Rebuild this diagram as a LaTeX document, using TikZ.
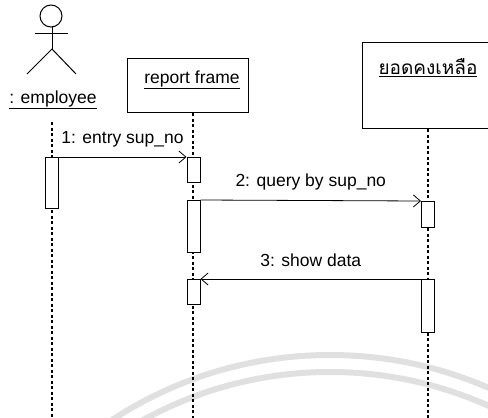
\documentclass[tikz,border=0pt]{standalone}
\usepackage{fontspec}
\setmainfont{Liberation Sans}
\newfontfamily\thaifont[Script=Thai]{Loma}
\usetikzlibrary{arrows.meta}
\begin{document}
\begin{tikzpicture}[x=1pt,y=-1pt,
  lbl/.style={font=\fontsize{17.5}{20}\selectfont, inner sep=0pt},
  objbox/.style={draw, line width=1pt},
  act/.style={draw, fill=white, line width=1pt, minimum width=13pt, inner sep=0pt, anchor=north},
  life/.style={line width=1.2pt, dash pattern=on 3pt off 2.5pt},
  msg/.style={line width=0.8pt, -{Straight Barb[length=7pt,width=12pt]}},
  wm/.style={line width=6pt, draw=black!12},
  wmray/.style={line width=2.5pt, draw=black!10},
  stick/.style={line width=1pt}]
\useasboundingbox (0,0) rectangle (488,418);
\clip (0,0) rectangle (488,418);
% watermark
\draw[wm] (330,753) circle (398);
\draw[wm] (330,759) circle (387);
\foreach \a in {45,55,...,135} \draw[wmray] (330,480) ++(\a:58) -- ++(\a:14);
% actor
\draw[stick] (51,16) circle (11);
\draw[stick] (35,33) -- (68,33);
\draw[stick] (52,27) -- (52,49);
\draw[stick] (27,74) -- (52,49) -- (76,74);
\node[lbl] (emp) at (53,100) {\underline{: employee}};
% objects
\draw[objbox] (127,58) rectangle (248,112);
\node[lbl] (rf) at (192,80) {\underline{report frame}};
\draw[objbox] (362,42) rectangle (495,128);
\node[lbl, font=\fontsize{19}{22}\selectfont] (th) at (428,68) {\thaifont\underline{ยอดคงเหลือ}};
% lifelines
\coordinate (eTop) at (52,122);
\coordinate (eBot) at (52,418);
\coordinate (rTop) at (193,113);
\coordinate (rBot) at (193,418);
\coordinate (tTop) at (428,129);
\coordinate (tBot) at (428,418);
\draw[life] (eTop) -- (eBot);
\draw[life] (rTop) -- (rBot);
\draw[life] (tTop) -- (tBot);
% activations
\node[act, minimum height=51pt] (e1) at (51.5,157) {};
\node[act, minimum height=25pt] (r1) at (193.5,157) {};
\node[act, minimum height=52pt] (r2) at (193.5,200) {};
\node[act, minimum height=25pt] (r3) at (193.5,279) {};
\node[act, minimum height=26pt] (t1) at (428,201) {};
\node[act, minimum height=53pt] (t2) at (428,279) {};
% messages
\draw[msg] (e1.north east) -- (r1.north west) node[lbl, midway, above=9pt] {1: entry sup\_no};
\draw[msg] (r2.north east) -- (t1.north west) node[lbl, midway, above=10pt] {2: query by sup\_no};
\draw[msg] (t2.north west) -- (r3.north east) node[lbl, midway, above=12pt] {3: show data};
\end{tikzpicture}
\end{document}
